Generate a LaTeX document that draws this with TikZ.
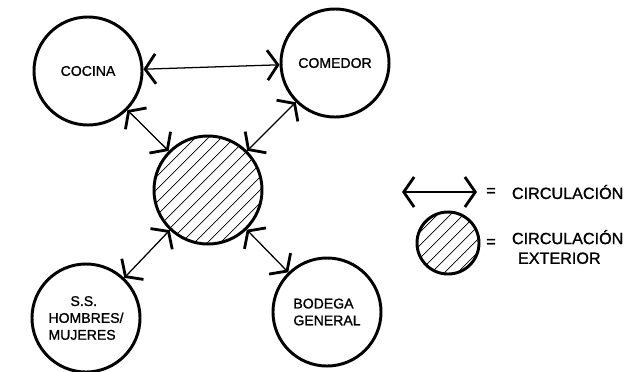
\documentclass[tikz,border=0pt]{standalone}
\usepackage{fontspec}
\setmainfont{Liberation Sans}[BoldFont=Liberation Sans, BoldFeatures={FakeBold=1.2}]
\usetikzlibrary{positioning, arrows.meta}

\begin{document}
\begin{tikzpicture}[
  x=0.025cm, y=-0.025cm,
  font=\fontsize{10}{12}\selectfont\bfseries,
  sala/.style={circle, draw, line width=2.1pt, minimum size=2.7cm, inner sep=0pt, align=center},
  rayado/.style={path picture={
      \foreach \k in {-7,...,7}
        \draw[line width=0.5pt] ([shift={(\k*13-80,80)}]path picture bounding box.center) -- ++(160,-160);}},
  flecha/.style={{Straight Barb[length=2.6mm, width=7.5mm, line width=2pt]}-{Straight Barb[length=2.6mm, width=7.5mm, line width=2pt]}, line width=0.9pt},
  leyenda/.style={font=\fontsize{11.5}{14}\selectfont\bfseries, align=left}
]
  \useasboundingbox (0,0) rectangle (629,371);

  % --- Espacios ---
  \node[sala] (cocina)    at (88,71)   {COCINA};
  \node[sala] (comedor)   at (335,63)  {COMEDOR};
  \node[sala, rayado] (circExt) at (208,190) {};
  \node[sala, align=left] (ssHombres) at (86,318) {\hspace*{5.5mm}S.S.\\HOMBRES/\\MUJERES};
  \node[sala, align=left] (bodega)    at (327,312) {BODEGA\\GENERAL};

  % --- Circulaciones ---
  \draw[flecha] (cocina) -- (comedor);
  \draw[flecha] (cocina) -- (circExt);
  \draw[flecha] (comedor) -- (circExt);
  \draw[flecha] (circExt) -- (ssHombres);
  \draw[flecha] (circExt) -- (bodega);

  % --- Leyenda ---
  \coordinate (leyIzq) at (402,192);
  \coordinate (leyDer) at (477,192);
  \draw[flecha] (leyIzq) -- (leyDer);
  \node[leyenda] (igual1) at (491,192) {=};
  \node[leyenda, anchor=west] (txtCirc) at (507,192) {CIRCULACIÓN};

  \node[sala, rayado, minimum size=1.55cm] (leyCirc) at (448,243) {};
  \node[leyenda] (igual2) at (491,243) {=};
  \node[leyenda, anchor=west] (txtExt) at (507,247) {CIRCULACIÓN\\\hspace*{1.5mm}EXTERIOR};
\end{tikzpicture}
\end{document}
